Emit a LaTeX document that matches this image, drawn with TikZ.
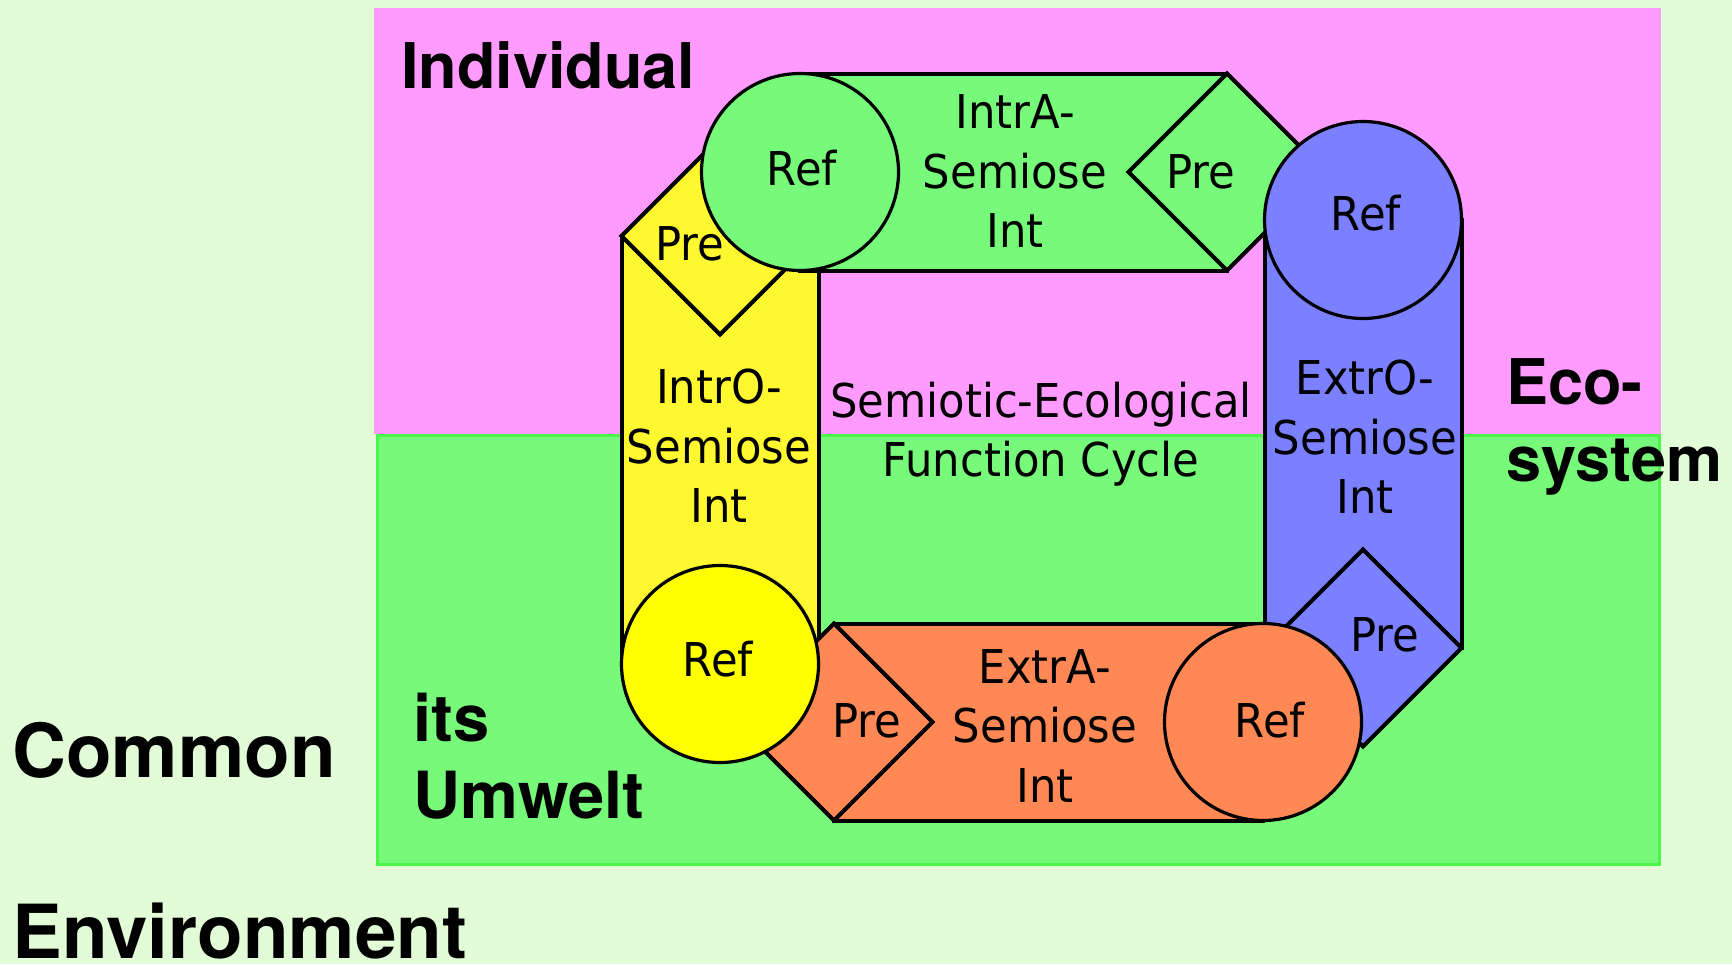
\documentclass[tikz,border=0pt]{standalone}
\usepackage{fontspec}
\newfontfamily\semfont[FakeStretch=0.93]{DejaVu Sans}
\newfontfamily\labfont{TeX Gyre Heros}
\usetikzlibrary{shapes.geometric}
\pgfdeclarelayer{areas}
\pgfdeclarelayer{bands}
\pgfdeclarelayer{front}
\pgfsetlayers{areas,bands,main,front}
\definecolor{bgcol}{RGB}{226,252,216}
\definecolor{pinkcol}{RGB}{255,155,255}
\definecolor{greencol}{RGB}{119,250,122}
\definecolor{greenedge}{RGB}{76,245,76}
\definecolor{yellowband}{RGB}{255,248,48}
\definecolor{yellowref}{RGB}{255,255,0}
\definecolor{bluecol}{RGB}{122,128,255}
\definecolor{orangecol}{RGB}{255,136,85}
\begin{document}
\begin{tikzpicture}[x=0.5pt,y=-0.5pt,
  refc/.style={circle, draw=black, line width=1.6pt, minimum size=98.5pt, inner sep=0pt, outer sep=0pt},
  prec/.style={diamond, draw=black, line width=2pt, minimum width=98.5pt, minimum height=98.5pt, inner sep=0pt, outer sep=0pt, line join=miter},
  band/.style={draw=black, line width=2pt},
  semtxt/.style={font=\semfont\fontsize{23.3}{29.75}\selectfont, inner sep=0pt, align=center, text depth=0pt},
  word/.style={font=\semfont\fontsize{23.3}{29.75}\selectfont, inner sep=0pt, anchor=base},
  biglab/.style={font=\labfont\bfseries\fontsize{31.5}{38.5}\selectfont, inner sep=0pt, text depth=0pt, align=left},
  hugelab/.style={font=\labfont\bfseries\fontsize{37.3}{46}\selectfont, inner sep=0pt, anchor=base west}
  ]
\useasboundingbox (0,0) rectangle (1732,964);
\begin{pgfonlayer}{areas}
  \fill[bgcol] (0,0) rectangle (1732,964);
  \fill[pinkcol] (374,8) rectangle (1661,433.5);
  \filldraw[fill=greencol, draw=greenedge, line width=1.5pt] (377.5,435) rectangle (1659.5,864.5);
\end{pgfonlayer}

% Pre diamonds
\node[prec, fill=yellowband] (ypre) at (720,236) {};
\node[prec, fill=greencol] (gpre) at (1227,172) {};
\node[prec, fill=bluecol] (bpre) at (1363,648) {};
\node[prec, fill=orangecol] (opre) at (834,722) {};

\begin{pgfonlayer}{front}
  % Ref circles
  \node[refc, fill=yellowref] (yref) at (720,664) {};
  \node[refc, fill=greencol] (gref) at (800,172) {};
  \node[refc, fill=bluecol] (bref) at (1363,220) {};
  \node[refc, fill=orangecol] (oref) at (1263,722) {};

  % texts
  \node[word] (greft) at (802,185) {Ref};
  \node[word] (gpret) at (1201,188) {Pre};
  \node[word] (yreft) at (718,676) {Ref};
  \node[word] (ypret) at (690,260) {Pre};
  \node[word] (breft) at (1366,230) {Ref};
  \node[word] (bpret) at (1385,651) {Pre};
  \node[word] (oreft) at (1270,737) {Ref};
  \node[word] (opret) at (867,737) {Pre};

  \node[semtxt] (gtxt) at (1015,171.5) {IntrA-\\Semiose\\Int};
  \node[semtxt] (ytxt) at (719,446) {IntrO-\\Semiose\\Int};
  \node[semtxt] (btxt) at (1365,437) {ExtrO-\\Semiose\\Int};
  \node[semtxt] (otxt) at (1045,725.5) {ExtrA-\\Semiose\\Int};
  \node[semtxt, font=\semfont\fontsize{23.3}{29.5}\selectfont] (ctxt) at (1041,429.5) {Semiotic-Ecological\\Function Cycle};

  \node[biglab, anchor=base west] (indiv) at (401,88) {Individual};
  \node[biglab, anchor=south west] (eco) at (1506,482) {Eco-\\system};
  \node[biglab, anchor=south west, font=\labfont\bfseries\fontsize{32.5}{38.5}\selectfont] (umw) at (413,819) {its\\Umwelt};
  \node[hugelab] (common) at (12,777) {Common};
  \node[hugelab] (envir) at (12,958) {Environment};
\end{pgfonlayer}

\begin{pgfonlayer}{bands}
  \path[band, fill=yellowband] (ypre.west) rectangle (yref.east);
  \path[band, fill=greencol] (gref.north) rectangle (gpre.south);
  \path[band, fill=bluecol] (bref.west) rectangle (bpre.east);
  \path[band, fill=orangecol] (opre.north) rectangle (oref.south);
\end{pgfonlayer}
\end{tikzpicture}
\end{document}
